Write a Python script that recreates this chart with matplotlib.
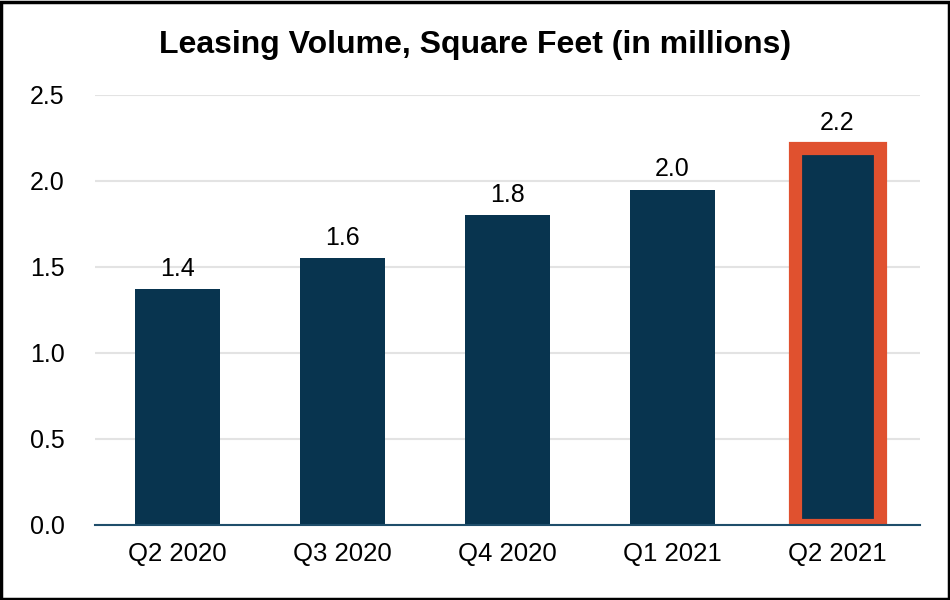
import matplotlib
matplotlib.use("Agg")
import matplotlib.pyplot as plt
from matplotlib.patches import Rectangle

categories = ["Q2 2020", "Q3 2020", "Q4 2020", "Q1 2021", "Q2 2021"]
values = [1.37, 1.55, 1.80, 1.95, 2.19]
labels = ["1.4", "1.6", "1.8", "2.0", "2.2"]
yticks = [0.0, 0.5, 1.0, 1.5, 2.0, 2.5]

plt.rcParams['font.family'] = ['Liberation Sans', 'DejaVu Sans']

fig = plt.figure(figsize=(9.5, 6), dpi=100)
ax = fig.add_axes([95/950, 1 - 525/600, 825/950, 430/600])

navy = "#08344F"
red = "#E0512F"
x = list(range(len(categories)))
bars = ax.bar(x, values, width=0.515, color=navy, zorder=3)
bars[-1].set_edgecolor(red)
bars[-1].set_linewidth(9.5)

for xi, v, lab in zip(x, values, labels):
    off = 0.075 if xi == len(categories) - 1 else 0.05
    ax.text(xi, v + off, lab, ha="center", va="bottom", fontsize=18, color="black")

ax.set_xlim(-0.5, len(categories) - 0.5)
ax.set_ylim(0, 2.5)
ax.set_yticks(yticks)
ax.set_yticklabels([f"{t:.1f}" for t in yticks], fontsize=18)
ax.set_xticks(x)
ax.set_xticklabels(categories, fontsize=18.5)
ax.tick_params(length=0, pad=12)
for lbl in ax.get_yticklabels():
    lbl.set_horizontalalignment('left')
ax.yaxis.set_tick_params(pad=65 - 25 * 72 / 100)
ax.grid(axis='y', color="#E3E3E3", linewidth=1.5, zorder=0)
for s in ["top", "right", "left"]:
    ax.spines[s].set_visible(False)
ax.spines["bottom"].set_color("#1F4E6B")
ax.spines["bottom"].set_linewidth(1.5)
ax.spines["bottom"].set_zorder(4)

fig.text(475/950, 1 - 45/600, "Leasing Volume, Square Feet (in millions)",
         ha="center", va="center", fontsize=23, fontweight="bold")

fig.patches.append(Rectangle((0.0015, 0.0025), 0.997, 0.995, transform=fig.transFigure,
                             fill=False, edgecolor="black", linewidth=2.5))

fig.savefig("out.png", dpi=100)
